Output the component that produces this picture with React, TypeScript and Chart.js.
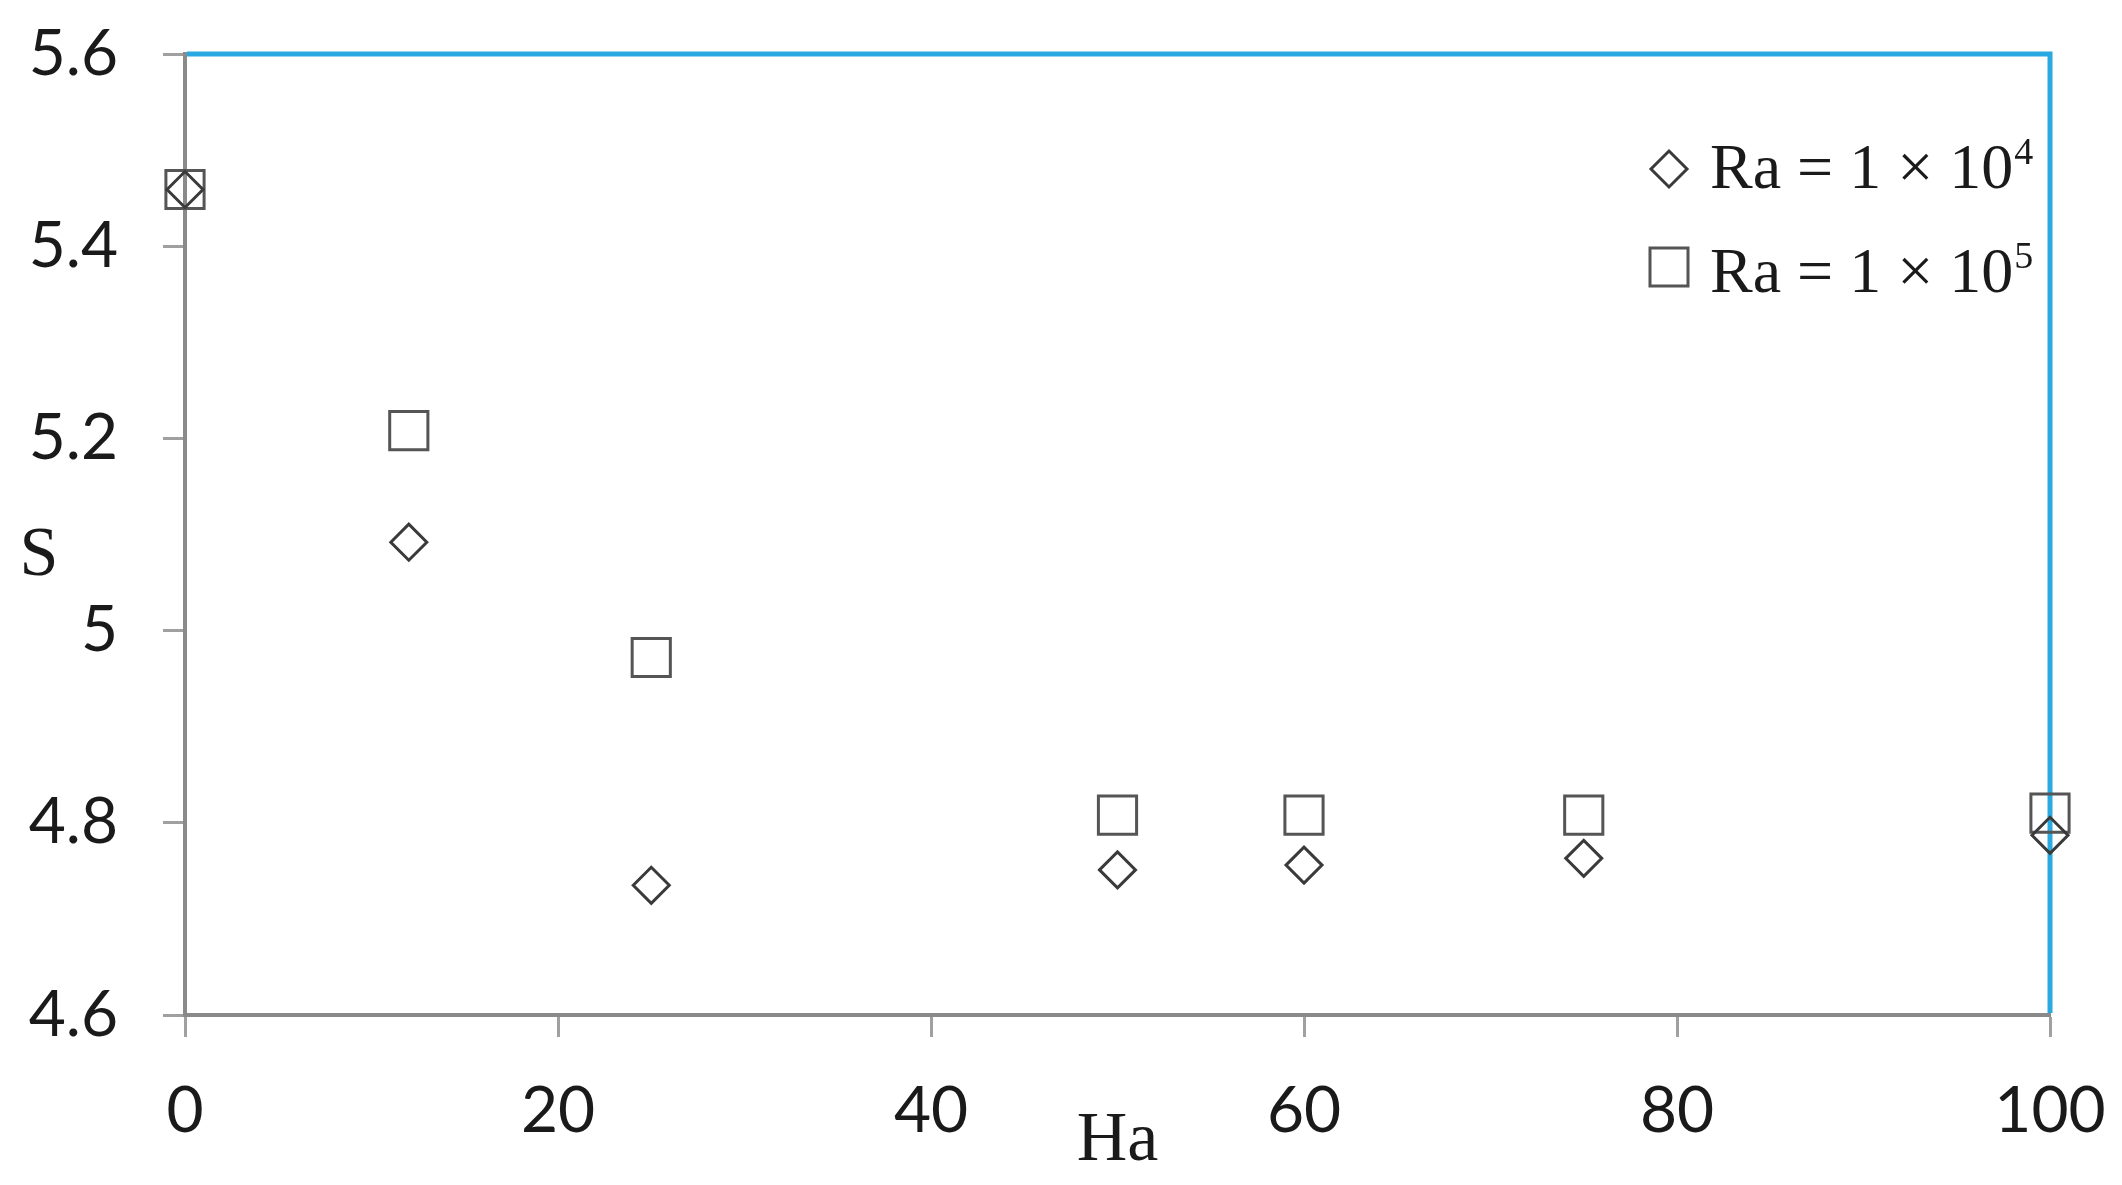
import React, { useEffect, useRef } from 'react';
import { Chart, registerables } from 'chart.js';

Chart.register(...registerables);

// ---- Data ----
const haValues = [0, 12, 25, 50, 60, 75, 100];
const sRa1e4 = [5.459, 5.092, 4.735, 4.751, 4.756, 4.763, 4.787];
const sRa1e5 = [5.459, 5.208, 4.972, 4.808, 4.808, 4.808, 4.81];
const seriesNames = ['Ra = 1 × 10', 'Ra = 1 × 10'];
const seriesExponents = ['4', '5'];
const xTickValues = [0, 20, 40, 60, 80, 100];
const yTickValues = [4.6, 4.8, 5, 5.2, 5.4, 5.6];
const xTitle = 'Ha';
const yTitle = 'S';

const AXIS_GRAY = '#8a8a8a';
const FRAME_BLUE = '#2aa9e0';
const SERIF = '"Liberation Serif", "Times New Roman", serif';

const decorPlugin = {
  id: 'decor',
  beforeDatasetsDraw(chart: any) {
    const { ctx, chartArea } = chart;
    ctx.save();
    ctx.strokeStyle = FRAME_BLUE;
    ctx.lineWidth = 5;
    ctx.beginPath();
    ctx.moveTo(chartArea.left + 2, chartArea.top);
    ctx.lineTo(chartArea.right, chartArea.top);
    ctx.lineTo(chartArea.right, chartArea.bottom - 2);
    ctx.stroke();
    ctx.restore();
  },
  afterDraw(chart: any) {
    const { ctx, chartArea } = chart;
    ctx.save();
    // axis titles
    ctx.fillStyle = '#1a1a1a';
    ctx.font = `70px ${SERIF}`;
    ctx.textAlign = 'center';
    ctx.textBaseline = 'alphabetic';
    ctx.fillText(xTitle, (chartArea.left + chartArea.right) / 2, 1160);
    ctx.fillText(yTitle, 39, 575);

    // legend
    const mx = 1669;
    const rows = [188, 292];
    const markerY = [169, 267];
    rows.forEach((baseY, i) => {
      ctx.strokeStyle = i === 0 ? '#3a3a3a' : '#555555';
      ctx.lineWidth = 3;
      ctx.beginPath();
      if (i === 0) {
        const r = 18;
        ctx.moveTo(mx, markerY[i] - r);
        ctx.lineTo(mx + r, markerY[i]);
        ctx.lineTo(mx, markerY[i] + r);
        ctx.lineTo(mx - r, markerY[i]);
        ctx.closePath();
      } else {
        const h = 19;
        ctx.rect(mx - h, markerY[i] - h, 2 * h, 2 * h);
      }
      ctx.stroke();
      ctx.fillStyle = '#1a1a1a';
      ctx.textAlign = 'left';
      ctx.font = `64px ${SERIF}`;
      const base = seriesNames[i];
      ctx.fillText(base, 1710, baseY);
      const w = ctx.measureText(base).width;
      ctx.font = `38px ${SERIF}`;
      ctx.fillText(seriesExponents[i], 1710 + w + 1, baseY - 24);
    });
    ctx.restore();
  },
};

export default function App() {
  const canvasRef = useRef<HTMLCanvasElement | null>(null);

  useEffect(() => {
    document.body.style.margin = '0';
    const canvas = canvasRef.current;
    if (!canvas) return;
    const chart = new Chart(canvas, {
      type: 'scatter',
      data: {
        datasets: [
          {
            label: seriesNames[0] + seriesExponents[0],
            data: haValues.map((x, i) => ({ x, y: sRa1e4[i] })),
            pointStyle: 'rectRot',
            pointRadius: 18,
            pointBorderWidth: 3,
            borderColor: '#3a3a3a',
            backgroundColor: 'rgba(0,0,0,0)',
            showLine: false,
            clip: false,
          },
          {
            label: seriesNames[1] + seriesExponents[1],
            data: haValues.map((x, i) => ({ x, y: sRa1e5[i] })),
            pointStyle: 'rect',
            pointRadius: 27,
            pointBorderWidth: 3,
            borderColor: '#555555',
            backgroundColor: 'rgba(0,0,0,0)',
            showLine: false,
            clip: false,
          },
        ],
      },
      options: {
        responsive: false,
        animation: false,
        devicePixelRatio: 1,
        layout: { padding: { top: 54, right: 72, left: 0, bottom: 0 } },
        plugins: {
          legend: { display: false },
          tooltip: { enabled: false },
        },
        scales: {
          x: {
            type: 'linear',
            min: 0,
            max: 100,
            afterBuildTicks: (scale: any) => {
              scale.ticks = xTickValues.map((v) => ({ value: v }));
            },
            afterFit: (scale: any) => {
              scale.height = 170;
              scale.paddingLeft = 0;
              scale.paddingRight = 0;
            },
            border: { display: true, color: AXIS_GRAY, width: 4 },
            grid: {
              drawOnChartArea: false,
              drawTicks: true,
              tickLength: 22,
              tickWidth: 3,
              tickColor: '#a0a0a0',
            },
            ticks: {
              padding: 36,
              color: '#1a1a1a',
              font: { family: 'Lato', size: 64 },
              maxRotation: 0,
              callback: (v: any) => String(v),
            },
          },
          y: {
            type: 'linear',
            min: 4.6,
            max: 5.6,
            afterBuildTicks: (scale: any) => {
              scale.ticks = yTickValues.map((v) => ({ value: v }));
            },
            afterFit: (scale: any) => {
              scale.width = 185;
              scale.paddingTop = 0;
              scale.paddingBottom = 0;
            },
            border: { display: true, color: AXIS_GRAY, width: 4 },
            grid: {
              drawOnChartArea: false,
              drawTicks: true,
              tickLength: 22,
              tickWidth: 3,
              tickColor: '#a0a0a0',
            },
            ticks: {
              padding: 45,
              color: '#1a1a1a',
              font: { family: 'Lato', size: 64 },
              callback: (v: any) => String(Math.round(Number(v) * 10) / 10),
            },
          },
        },
      },
      plugins: [decorPlugin],
    });
    return () => chart.destroy();
  }, []);

  return (
    <div style={{ width: 2122, height: 1185, overflow: 'hidden', background: '#fff' }}>
      <canvas ref={canvasRef} width={2122} height={1185} style={{ display: 'block' }} />
    </div>
  );
}
